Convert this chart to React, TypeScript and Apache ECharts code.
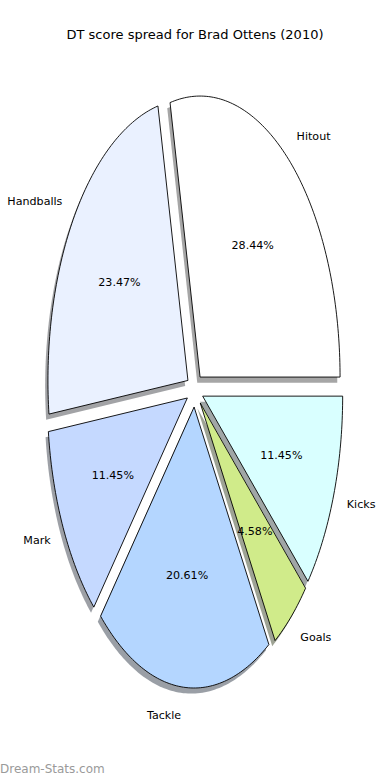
import React, { useEffect, useRef } from 'react';
import * as echarts from 'echarts';

const categories = ['Hitout', 'Handballs', 'Mark', 'Tackle', 'Goals', 'Kicks'];
const values = [28.44, 23.47, 11.45, 20.61, 4.58, 11.45];
const colors = ['#ffffff', '#eaf1ff', '#c5d9ff', '#b4d6ff', '#d0eb8a', '#d9ffff'];
const titleText = 'DT score spread for Brad Ottens (2010)';
const watermark = 'Dream-Stats.com';

const CX = 194.8;
const CY = 390.2;
const RX = 140;
const RY = 281;
const EXPLODE = 0.06;
const SHADOW_DX = -2.8;
const SHADOW_DY = 5.6;
const FONT = '"DejaVu Sans", sans-serif';

function shade(hex: string): string {
  const r = parseInt(hex.slice(1, 3), 16);
  const g = parseInt(hex.slice(3, 5), 16);
  const b = parseInt(hex.slice(5, 7), 16);
  return `rgba(${Math.round(r * 0.3)},${Math.round(g * 0.3)},${Math.round(b * 0.3)},0.5)`;
}

function geom(i: number, v: number) {
  const total = values.reduce((a, b) => a + b, 0);
  let start = 0;
  for (let k = 0; k < i; k++) start += values[k];
  const a1 = (start / total) * 2 * Math.PI;
  const a2 = ((start + v) / total) * 2 * Math.PI;
  const mid = (a1 + a2) / 2;
  const ox = CX + EXPLODE * RX * Math.cos(mid);
  const oy = CY - EXPLODE * RY * Math.sin(mid);
  return { a1, a2, mid, ox, oy, total };
}

function wedgePoints(ox: number, oy: number, a1: number, a2: number): number[][] {
  const pts: number[][] = [[ox, oy]];
  const n = Math.max(8, Math.ceil(((a2 - a1) / (2 * Math.PI)) * 360));
  for (let k = 0; k <= n; k++) {
    const a = a1 + ((a2 - a1) * k) / n;
    pts.push([ox + RX * Math.cos(a), oy - RY * Math.sin(a)]);
  }
  return pts;
}

export default function App() {
  const ref = useRef<HTMLDivElement>(null);
  useEffect(() => {
    if (!ref.current) return;
    const chart = echarts.init(ref.current, null, { renderer: 'svg' });
    const data = values.map((v, i) => ({ name: categories[i], value: [v, i] }));
    chart.setOption({
      animation: false,
      backgroundColor: '#ffffff',
      title: {
        text: titleText,
        left: 'center',
        top: 23,
        textStyle: { fontSize: 13, fontWeight: 'normal', fontFamily: FONT, color: '#000' },
      },
      graphic: [
        {
          type: 'text',
          left: 0,
          top: 763,
          style: { text: watermark, fontSize: 12, fontFamily: FONT, fill: '#9a9a9a' },
        },
      ],
      series: [
        {
          type: 'custom',
          coordinateSystem: 'none',
          z: 1,
          silent: true,
          data,
          renderItem: (params: any, api: any) => {
            const i = params.dataIndex;
            const v = api.value(0);
            const g = geom(i, v);
            return {
              type: 'polygon',
              shape: { points: wedgePoints(g.ox + SHADOW_DX, g.oy + SHADOW_DY, g.a1, g.a2) },
              style: { fill: shade(colors[i]), stroke: 'none' },
            };
          },
        },
        {
          type: 'custom',
          coordinateSystem: 'none',
          z: 2,
          silent: true,
          data,
          renderItem: (params: any, api: any) => {
            const i = params.dataIndex;
            const v = api.value(0);
            const g = geom(i, v);
            const c = Math.cos(g.mid);
            const s = Math.sin(g.mid);
            const lx = g.ox + 1.1 * RX * c;
            const ly = g.oy - 1.1 * RY * s;
            const px = g.ox + 0.6 * RX * c;
            const py = g.oy - 0.6 * RY * s;
            return {
              type: 'group',
              children: [
                {
                  type: 'polygon',
                  shape: { points: wedgePoints(g.ox, g.oy, g.a1, g.a2) },
                  style: { fill: colors[i], stroke: '#000', lineWidth: 0.9, lineJoin: 'miter' },
                },
                {
                  type: 'text',
                  x: lx,
                  y: ly,
                  style: {
                    text: categories[i],
                    align: c > 0 ? 'left' : 'right',
                    verticalAlign: 'middle',
                    fill: '#000',
                    fontSize: 11.1,
                    fontFamily: FONT,
                  },
                },
                {
                  type: 'text',
                  x: px,
                  y: py,
                  style: {
                    text: ((v / g.total) * 100).toFixed(2) + '%',
                    align: 'center',
                    verticalAlign: 'middle',
                    fill: '#000',
                    fontSize: 11.1,
                    fontFamily: FONT,
                  },
                },
              ],
            };
          },
        },
      ],
    });
    return () => chart.dispose();
  }, []);
  return (
    <div
      ref={ref}
      style={{ position: 'absolute', left: 0, top: 0, width: 390, height: 780, background: '#fff' }}
    />
  );
}
